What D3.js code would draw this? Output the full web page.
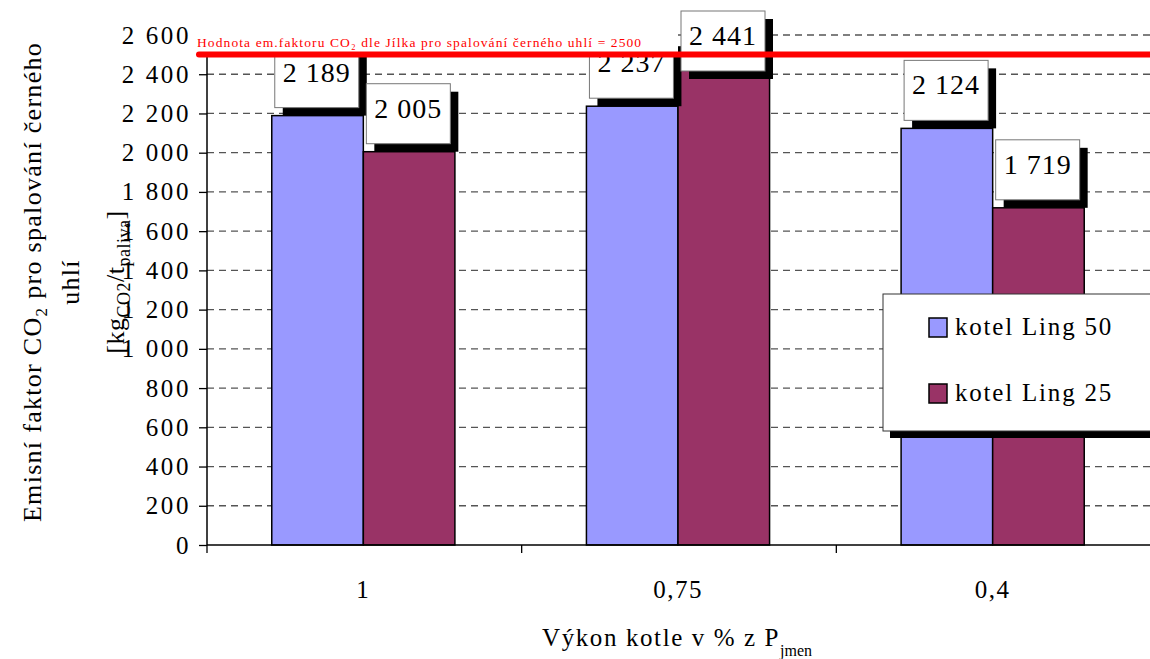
<!DOCTYPE html>
<html>
<head>
<meta charset="utf-8">
<script src="https://cdn.jsdelivr.net/npm/d3@7"></script>
<style>
  body { margin: 0; background: #fff; }
  svg text { font-family: "Liberation Serif", "Tinos", "DejaVu Serif", "Noto Serif", serif; }
</style>
</head>
<body>
<svg width="1150" height="659"></svg>
<script>
// data
const categories = ["1", "0,75", "0,4"]
const series = ["kotel Ling 50", "kotel Ling 25"]
const ling50 = [2189, 2237, 2124]
const ling25 = [2005, 2441, 1719]
const yTicks = [0, 200, 400, 600, 800, 1000, 1200, 1400, 1600, 1800, 2000, 2200, 2400, 2600]
const limitValue = 2500
const limitText = "Hodnota em.faktoru CO₂ dle Jílka pro spalování černého  uhlí = 2500"
const colors = ["#9999ff", "#993366"]

const svg = d3.select("svg")
const W = 1150, H = 659
const pL = 207, pT = 35, pB = 545, pR = 1151

//scales
const y = d3.scaleLinear().domain([0, 2600]).range([pB, pT])
const x0 = d3.scaleBand().domain(categories).range([pL, pR]).padding(0)
const groupW = x0.bandwidth() * 0.582
const x1 = d3.scaleBand().domain(series).range([0, groupW]).padding(0)
const fmt = v => d3.format(",")(v).replace(/,/g, " ")

//grid
svg.append("g").selectAll("line").data(yTicks.filter(d => d > 0)).enter().append("line")
  .attr("x1", pL).attr("x2", W)
  .attr("y1", d => y(d)).attr("y2", d => y(d))
  .attr("stroke", "#555").attr("stroke-width", 1.3).attr("stroke-dasharray", "7,5")

//bars
const rows = categories.map((c, i) => ({c: c, vals: [ling50[i], ling25[i]]}))
const gx = c => x0(c) + (x0.bandwidth() - groupW) / 2 - 1
const bars = svg.append("g")
rows.forEach(r => {
  r.vals.forEach((v, j) => {
    bars.append("rect")
      .attr("x", gx(r.c) + x1(series[j]))
      .attr("y", y(v))
      .attr("width", x1.bandwidth())
      .attr("height", y(0) - y(v))
      .attr("fill", colors[j]).attr("stroke", "#000").attr("stroke-width", 1.5)
  })
})

//axes
const yAxis = svg.append("g").attr("transform", `translate(${pL},0)`)
  .call(d3.axisLeft(y).tickValues(yTicks).tickSize(8).tickFormat(fmt).tickPadding(8))
yAxis.attr("font-family", null)
yAxis.select(".domain").remove()
yAxis.selectAll("line").attr("stroke", "#000").attr("stroke-width", 1.3)
yAxis.selectAll("text").attr("font-size", 25).attr("letter-spacing", 2.6).attr("fill", "#000")
svg.append("line").attr("x1", pL).attr("x2", pL).attr("y1", pT).attr("y2", pB)
  .attr("stroke", "#000").attr("stroke-width", 1.5)

svg.append("line").attr("x1", pL).attr("x2", W).attr("y1", pB).attr("y2", pB)
  .attr("stroke", "#000").attr("stroke-width", 1.5)
const xt = svg.append("g")
categories.forEach(c => {
  xt.append("line").attr("x1", x0(c)).attr("x2", x0(c)).attr("y1", pB).attr("y2", pB + 8)
    .attr("stroke", "#000").attr("stroke-width", 1.3)
  xt.append("text").attr("x", x0(c) + x0.bandwidth() / 2 - 1).attr("y", 598)
    .attr("text-anchor", "middle").attr("font-size", 25).attr("letter-spacing", 1.5).text(c)
})

//value labels
const lw = 84, lh = 60, sh = 8
const labs = svg.append("g")
rows.forEach(r => {
  r.vals.forEach((v, j) => {
    let bx = gx(r.c) + x1(series[j]) + 3
    let by = Math.max(11, y(v) - sh - lh)
    labs.append("rect").attr("x", bx + sh).attr("y", by + sh).attr("width", lw).attr("height", lh).attr("fill", "#000")
    labs.append("rect").attr("x", bx).attr("y", by).attr("width", lw).attr("height", lh)
      .attr("fill", "#fff").attr("stroke", "#777").attr("stroke-width", 1)
    labs.append("text").attr("x", bx + lw / 2).attr("y", by + 34)
      .attr("text-anchor", "middle").attr("font-size", 28).attr("letter-spacing", 1).text(fmt(v))
  })
})

//white box behind limit text (sits over the labels)
svg.append("rect").attr("x", 190).attr("y", 18).attr("width", 488).attr("height", 35).attr("fill", "#fff")

//limit line
svg.append("line").attr("x1", 199).attr("x2", W).attr("y1", y(limitValue)).attr("y2", y(limitValue))
  .attr("stroke", "#ff0000").attr("stroke-width", 6).attr("stroke-linecap", "round")
svg.append("text").attr("x", 197).attr("y", 47).attr("fill", "#ff0000")
  .attr("font-size", 13.5).attr("letter-spacing", 1.1).text(limitText)

//legend
const lg = svg.append("g")
lg.append("rect").attr("x", 890).attr("y", 301).attr("width", 280).attr("height", 137).attr("fill", "#000")
lg.append("rect").attr("x", 883).attr("y", 294).attr("width", 290).attr("height", 137)
  .attr("fill", "#fff").attr("stroke", "#333").attr("stroke-width", 1)
series.forEach((s, i) => {
  let yy = 318 + i * 66
  lg.append("rect").attr("x", 929).attr("y", yy).attr("width", 18).attr("height", 19)
    .attr("fill", colors[i]).attr("stroke", "#000").attr("stroke-width", 1.5)
  lg.append("text").attr("x", 955).attr("y", yy + 17).attr("font-size", 25).attr("letter-spacing", 1.8).text(s)
})

//axis titles
const xtt = svg.append("text").attr("x", 677).attr("y", 646).attr("text-anchor", "middle")
  .attr("font-size", 25).attr("letter-spacing", 1.6)
xtt.append("tspan").text("Výkon kotle v % z P")
xtt.append("tspan").attr("font-size", 16).attr("dy", 10).attr("dx", 0).attr("letter-spacing", 0).text("jmen")

const yc = 282
const t1 = svg.append("text").attr("transform", `translate(41,${yc}) rotate(-90)`)
  .attr("text-anchor", "middle").attr("font-size", 26).attr("letter-spacing", 1.3)
t1.append("tspan").text("Emisní faktor CO")
t1.append("tspan").attr("font-size", 17).attr("dy", 6).text("2")
t1.append("tspan").attr("dy", -6).text(" pro spalování černého")
svg.append("text").attr("transform", `translate(79,${yc}) rotate(-90)`)
  .attr("text-anchor", "middle").attr("font-size", 26).attr("letter-spacing", 1.3).text("uhlí")
const t3 = svg.append("text").attr("transform", `translate(124,${yc}) rotate(-90)`)
  .attr("text-anchor", "middle").attr("font-size", 26).attr("letter-spacing", 0.5)
t3.append("tspan").text("[kg")
t3.append("tspan").attr("font-size", 18).attr("dy", 6).text("CO2")
t3.append("tspan").attr("dy", -6).text("/t")
t3.append("tspan").attr("font-size", 18).attr("dy", 6).text("paliva")
t3.append("tspan").attr("dy", -6).text("]")
</script>
</body>
</html>
